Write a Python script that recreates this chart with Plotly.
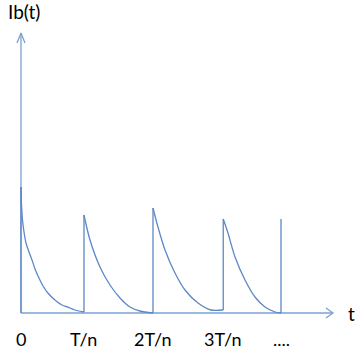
import plotly.graph_objects as go

# Pulse instants (units of T/n) and peak heights (arbitrary current units)
pulse_t = [0.0, 0.984, 2.0625, 3.16, 4.0625]
pulse_peak = [1.26, 0.98, 1.05, 0.94, 0.94]
pulse_base = [0.0, 0.01, 0.0, 0.03, 0.0]

# Decay segments
seg1_t = [0.0, 0.0078, 0.0234, 0.047, 0.078, 0.125, 0.172, 0.219, 0.266,
          0.344, 0.42, 0.53, 0.64, 0.766, 0.84, 0.984]
seg1_i = [1.26, 1.08, 0.93, 0.81, 0.70, 0.61, 0.53, 0.44, 0.37,
          0.27, 0.20, 0.13, 0.08, 0.05, 0.03, 0.01]
seg2_t = [0.984, 1.078, 1.234, 1.39, 1.547, 1.703, 1.859, 2.0625]
seg2_i = [0.98, 0.73, 0.46, 0.28, 0.15, 0.06, 0.02, 0.0]
seg3_t = [2.0625, 2.14, 2.25, 2.406, 2.5625, 2.766, 2.969, 3.16]
seg3_i = [1.05, 0.86, 0.63, 0.40, 0.23, 0.10, 0.03, 0.03]
seg4_t = [3.16, 3.234, 3.344, 3.5, 3.656, 3.8125, 3.969, 4.0625]
seg4_i = [0.94, 0.80, 0.56, 0.33, 0.16, 0.06, 0.01, 0.0]

tick_labels = ["0", "T/n", "2T/n", "3T/n", "...."]
y_label = "Ib(t)"
x_label = "t"

X_END = 4.875
Y_END = 2.80

LINE = "#5b88c6"
AXIS = "#7aa0d4"
FONT = "Lato"

fig = go.Figure()

# axes with open arrow heads
fig.add_trace(go.Scatter(x=[0, X_END, None, X_END - 0.11, X_END, X_END - 0.11],
                         y=[0, 0, None, 0.05, 0, -0.05],
                         mode="lines", line=dict(color=AXIS, width=1.3),
                         hoverinfo="skip", showlegend=False))
fig.add_trace(go.Scatter(x=[0, 0, None, -0.0625, 0, 0.0625],
                         y=[0, Y_END, None, Y_END - 0.10, Y_END, Y_END - 0.10],
                         mode="lines", line=dict(color=AXIS, width=1.3),
                         hoverinfo="skip", showlegend=False))

# vertical jumps
vx, vy = [], []
for t, b, p in zip(pulse_t, pulse_base, pulse_peak):
    vx += [t, t, None]
    vy += [b, p, None]
fig.add_trace(go.Scatter(x=vx, y=vy, mode="lines",
                         line=dict(color=LINE, width=1.3),
                         hoverinfo="skip", showlegend=False))

fig.add_trace(go.Scatter(x=seg1_t, y=seg1_i, mode="lines",
                         line=dict(color=LINE, width=1.3, shape="spline", smoothing=0.4),
                         hoverinfo="skip", showlegend=False))
for st, si in [(seg2_t, seg2_i), (seg3_t, seg3_i), (seg4_t, seg4_i)]:
    fig.add_trace(go.Scatter(x=st, y=si, mode="lines",
                             line=dict(color=LINE, width=1.3, shape="spline", smoothing=0.8),
                             hoverinfo="skip", showlegend=False))

for t, lab in zip(pulse_t, tick_labels):
    fig.add_annotation(x=t, y=-0.26, text=lab, showarrow=False,
                       xanchor="center", yanchor="middle",
                       font=dict(family=FONT, size=18, color="#000000"))

fig.add_annotation(x=0.05, y=3.02, text=y_label, showarrow=False,
                   xanchor="center", yanchor="middle",
                   font=dict(family=FONT, size=19, color="#000000"))
fig.add_annotation(x=5.17, y=0.0, text=x_label, showarrow=False,
                   xanchor="center", yanchor="middle",
                   font=dict(family=FONT, size=19, color="#000000"))

fig.update_layout(
    width=357, height=360,
    margin=dict(l=0, r=0, t=0, b=0),
    paper_bgcolor="white", plot_bgcolor="white",
    xaxis=dict(range=[-0.328125, 5.25], visible=False, fixedrange=True),
    yaxis=dict(range=[-0.47, 3.13], visible=False, fixedrange=True),
    showlegend=False,
)

fig.write_html("out.html", config={"displayModeBar": False},
               post_script="document.body.style.margin='0';document.body.style.padding='0';")
